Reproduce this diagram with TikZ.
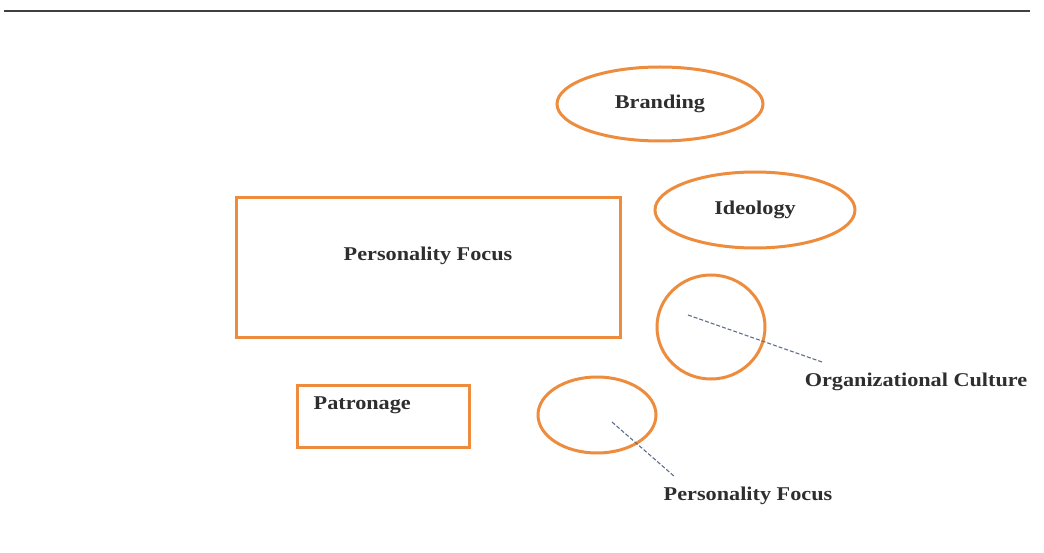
\documentclass[tikz,border=0pt]{standalone}
\usepackage{fontspec}
\setmainfont{Liberation Serif}
\newfontfamily\diagfont[FakeStretch=1.14]{Liberation Serif Bold}
\usetikzlibrary{shapes.geometric}
\definecolor{borange}{RGB}{238,140,62}
\definecolor{lead}{RGB}{95,110,140}
\tikzset{
  oval/.style={ellipse, draw=borange, line width=3pt, inner sep=0pt},
  boxshape/.style={rectangle, draw=borange, line width=3pt, inner sep=0pt},
  txt/.style={font=\diagfont\fontsize{19.5}{22}\selectfont, text=black!82},
  leader/.style={draw=lead, line width=1.1pt, dashed, dash pattern=on 4pt off 2pt}
}
\begin{document}
\begin{tikzpicture}[x=1pt,y=-1pt]
\useasboundingbox (0,0) rectangle (1044,553);
\coordinate (rl) at (4,11);
\coordinate (rr) at (1030,11);
\draw[line width=2pt, black!75] (rl) -- (rr);

\node[oval, minimum width=206pt, minimum height=74pt, txt] (brand) at (660,104) {Branding};
\node[oval, minimum width=200pt, minimum height=76pt, txt] (ideo) at (755,210) {Ideology};
\node[boxshape, minimum width=384pt, minimum height=139pt] (pf) at (428,267.5) {};
\node[txt] (pftext) at ([yshift=12pt]pf.center) {Personality Focus};
\node[boxshape, minimum width=172pt, minimum height=62pt] (pat) at (383,416) {};
\node[txt, anchor=west, inner sep=0pt] (pattext) at ([shift={(18,22)}]pat.north west) {Patronage};

\node[oval, minimum width=108pt, minimum height=104pt] (oc) at (711,327) {};
\node[oval, minimum width=118pt, minimum height=76pt] (pfo) at (597,415) {};

\node[txt] (oclabel) at (916,382) {Organizational Culture};
\node[txt] (pflabel) at (748,496) {Personality Focus};

\coordinate (oca) at (688,315);
\coordinate (ocb) at (822,362);
\draw[leader] (oca) -- (ocb);
\coordinate (pfa) at (612,422);
\coordinate (pfb) at (675,477);
\draw[leader] (pfa) -- (pfb);
\end{tikzpicture}
\end{document}
